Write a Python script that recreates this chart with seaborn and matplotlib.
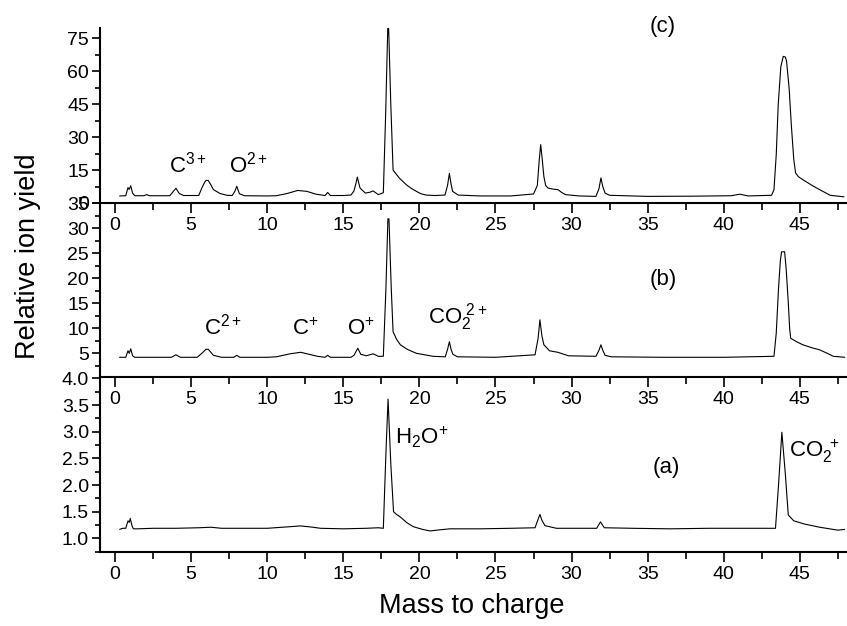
#!/usr/bin/env python3
"""
Stacked mass spectra (three panels, shared m/z range).
Writes out.png
"""

import matplotlib
matplotlib.use("Agg")
import matplotlib.pyplot as plt
from matplotlib.ticker import MultipleLocator
import seaborn as sns

# ----------------------------
# Data
# ----------------------------

# panel (c), top
mz_c = [0.3, 0.7, 0.85, 0.93, 1.03, 1.15, 1.3, 1.9, 2.08, 2.25, 3.6, 3.83, 4.0, 4.22, 4.5,
        5.5, 5.7, 5.9, 5.98, 6.13, 6.3, 6.46, 6.9, 7.35, 7.7, 7.87, 8.0, 8.17, 8.5, 10.0,
        10.6, 11.3, 12.0, 12.6, 13.2, 13.8, 13.97, 14.15, 15.0, 15.5, 15.7, 15.85, 15.92,
        16.0, 16.1, 16.45, 16.75, 16.96, 17.3, 17.63, 17.78, 17.92, 17.98, 18.12, 18.27,
        18.4, 18.7, 19.16, 19.5, 19.8, 20.1, 20.45, 21.0, 21.68, 21.85, 21.97, 22.07, 22.18,
        22.55, 24.0, 26.0, 27.5, 27.75, 27.88, 27.97, 28.07, 28.18, 28.3, 28.45, 28.8, 29.1,
        29.35, 29.6, 30.5, 31.6, 31.8, 31.93, 32.05, 32.2, 32.5, 35.0, 38.0, 40.5, 41.06,
        41.6, 43.14, 43.3, 43.45, 43.58, 43.75, 43.91, 44.05, 44.13, 44.3, 44.44, 44.6,
        44.72, 44.9, 45.2, 45.9, 46.4, 47.0, 47.9]
yield_c = [3.2, 3.3, 7.0, 6.2, 7.9, 4.5, 3.3, 3.3, 3.8, 3.3, 3.3, 5.3, 6.7, 4.3, 3.4,
           3.4, 6.8, 9.6, 10.3, 10.2, 8.2, 6.1, 4.3, 3.5, 3.4, 5.3, 7.6, 4.2, 3.3, 3.2,
           3.3, 4.3, 5.7, 5.3, 4.0, 3.4, 4.8, 3.4, 3.4, 3.6, 5.5, 9.5, 11.8,
           9.5, 6.8, 4.5, 4.9, 5.5, 3.8, 4.7, 40.0, 79.5, 79.5, 45.0, 15.0,
           13.8, 11.2, 8.2, 6.5, 5.3, 4.2, 3.6, 3.4, 3.6, 8.0, 13.5, 9.0, 5.3,
           3.6, 3.2, 3.2, 4.1, 8.0, 20.0, 26.6, 20.0, 12.0, 8.0, 6.8, 6.3, 6.1,
           4.8, 3.8, 3.2, 3.0, 6.5, 11.4, 7.5, 4.5, 3.5, 3.0, 3.1, 3.3, 4.0,
           3.2, 3.5, 6.0, 22.0, 44.8, 62.0, 66.8, 66.5, 64.5, 52.0, 35.7, 20.0,
           13.7, 12.0, 10.6, 7.6, 5.7, 3.5, 2.8]

# panel (b), middle
mz_b = [0.3, 0.7, 0.85, 0.93, 1.03, 1.15, 1.3, 3.7, 4.0, 4.3, 5.4, 5.7, 5.98, 6.13, 6.46,
        7.0, 7.8, 8.0, 8.2, 10.0, 10.6, 11.5, 12.2, 13.3, 13.8, 13.97, 14.15, 15.5, 15.7,
        15.95, 16.15, 16.5, 16.96, 17.3, 17.63, 17.8, 17.93, 18.0, 18.15, 18.27, 18.5,
        18.75, 19.2, 19.8, 20.9, 21.7, 21.85, 21.97, 22.08, 22.2, 22.5, 25.0, 27.6, 27.8,
        27.92, 28.05, 28.18, 28.55, 29.1, 29.8, 31.6, 31.8, 31.93, 32.05, 32.2, 32.6, 36.0,
        40.0, 43.3, 43.45, 43.6, 43.72, 43.8, 44.0, 44.1, 44.25, 44.33, 44.4, 44.8, 45.2,
        45.8, 46.3, 46.8, 47.2, 47.95]
yield_b = [4.2, 4.2, 5.5, 5.0, 5.9, 4.5, 4.2, 4.2, 4.7, 4.2, 4.2, 5.0, 5.8, 5.8, 4.6,
           4.2, 4.2, 4.6, 4.2, 4.2, 4.3, 4.9, 5.2, 4.4, 4.2, 4.6, 4.2, 4.2, 4.6,
           6.0, 4.8, 4.5, 4.9, 4.4, 4.4, 18.0, 31.9, 31.9, 18.0, 9.3, 7.8,
           6.7, 5.8, 5.0, 4.4, 4.3, 5.8, 7.3, 5.8, 4.8, 4.3, 4.2, 4.7, 8.0,
           11.7, 8.5, 6.7, 5.5, 5.2, 4.5, 4.4, 5.6, 6.7, 5.6, 4.6, 4.3, 4.2,
           4.2, 4.4, 9.0, 18.0, 23.5, 25.3, 25.3, 22.0, 14.7, 10.0, 8.0, 7.3, 6.7,
           6.1, 5.7, 5.0, 4.4, 4.2]

# panel (a), bottom
mz_a = [0.3, 0.5, 0.7, 0.85, 0.93, 1.0, 1.1, 1.2, 1.5, 2.5, 4.0, 5.5, 6.3, 7.0, 8.5,
        10.0, 10.5, 11.5, 12.2, 13.0, 13.5, 15.0, 16.5, 17.3, 17.63, 17.8, 17.94, 18.12,
        18.3, 18.5, 18.75, 19.2, 19.6, 20.2, 20.7, 21.3, 22.0, 24.0, 26.0, 27.6, 27.8,
        27.92, 28.05, 28.25, 29.0, 30.5, 31.65, 31.9, 32.15, 34.0, 36.5, 39.0, 41.5, 43.4,
        43.6, 43.82, 44.05, 44.24, 44.6, 45.3, 46.3, 47.5, 47.95]
yield_a = [1.17, 1.19, 1.19, 1.33, 1.30, 1.375, 1.25, 1.18, 1.18, 1.19, 1.19, 1.20, 1.21, 1.19, 1.19,
           1.19, 1.20, 1.22, 1.235, 1.21, 1.19, 1.18, 1.19, 1.20, 1.19, 2.6, 3.61, 2.4,
           1.50, 1.45, 1.40, 1.29, 1.22, 1.17, 1.14, 1.16, 1.18, 1.18, 1.19, 1.20, 1.36,
           1.45, 1.34, 1.24, 1.19, 1.19, 1.19, 1.31, 1.20, 1.19, 1.18, 1.19, 1.19, 1.19,
           2.0, 2.99, 2.2, 1.44, 1.33, 1.27, 1.21, 1.155, 1.17]

# ----------------------------
# Style
# ----------------------------
sns.set_theme(style="ticks")
plt.rcParams["font.family"] = ["Liberation Sans", "DejaVu Sans"]
plt.rcParams["mathtext.fontset"] = "custom"
plt.rcParams["mathtext.rm"] = "Liberation Sans"
plt.rcParams["mathtext.it"] = "Liberation Sans"
plt.rcParams["axes.edgecolor"] = "black"
plt.rcParams["axes.linewidth"] = 1.5
plt.rcParams["xtick.color"] = "black"
plt.rcParams["ytick.color"] = "black"
plt.rcParams["text.color"] = "black"

W, H = 847, 626
fig = plt.figure(figsize=(W / 100, H / 100), dpi=100)

left = 100 / W
width = 1 - left
# (top px, bottom px) of each panel
rows = [(28.3, 203.3), (203.3, 377.3), (377.3, 552.3)]


def make_axes(top_px, bot_px):
    ax = fig.add_axes([left, 1 - bot_px / H, width, (bot_px - top_px) / H])
    ax.patch.set_alpha(0)
    sns.despine(ax=ax)
    ax.set_xlim(-0.99, 48.1)
    ax.xaxis.set_major_locator(MultipleLocator(5))
    ax.xaxis.set_minor_locator(MultipleLocator(2.5))
    ax.tick_params(axis="x", which="major", length=7, width=1.2, labelsize=14, pad=3)
    ax.tick_params(axis="x", which="minor", length=5, width=1.2)
    ax.tick_params(axis="y", which="major", length=6, width=1.2, labelsize=14, pad=2)
    ax.tick_params(axis="y", which="minor", length=3.5, width=1.2)
    ax.set_xlabel("")
    ax.set_ylabel("")
    return ax


def draw(ax, x, y):
    sns.lineplot(x=x, y=y, ax=ax, color="black", linewidth=0.8, legend=False)


# ----------------------------
# Panels
# ----------------------------
ax_c = make_axes(*rows[0])
draw(ax_c, mz_c, yield_c)
ax_c.set_ylim(-0.15, 79.6)
ax_c.yaxis.set_major_locator(MultipleLocator(15))
ax_c.yaxis.set_minor_locator(MultipleLocator(7.5))
ax_c.text(36.0, 80.3, "(c)", ha="center", va="center", fontsize=16)
ax_c.text(3.57, 13.7, r"C$^{3+}$", ha="left", va="baseline", fontsize=16)
ax_c.text(7.51, 13.7, r"O$^{2+}$", ha="left", va="baseline", fontsize=16)

ax_b = make_axes(*rows[1])
draw(ax_b, mz_b, yield_b)
ax_b.set_ylim(0.2, 35)
ax_b.yaxis.set_major_locator(MultipleLocator(5))
ax_b.yaxis.set_minor_locator(MultipleLocator(2.5))
ax_b.text(36.0, 19.7, "(b)", ha="center", va="center", fontsize=16)
ax_b.text(5.85, 8.7, r"C$^{2+}$", ha="left", va="baseline", fontsize=16)
ax_b.text(11.6, 8.7, r"C$^{+}$", ha="left", va="baseline", fontsize=16)
ax_b.text(15.22, 8.7, r"O$^{+}$", ha="left", va="baseline", fontsize=16)
ax_b.text(20.57, 11.0, r"CO$_{2}^{\ 2+}$", ha="left", va="baseline", fontsize=16)

ax_a = make_axes(*rows[2])
draw(ax_a, mz_a, yield_a)
ax_a.set_ylim(0.74, 4.02)
ax_a.yaxis.set_major_locator(MultipleLocator(0.5))
ax_a.yaxis.set_minor_locator(MultipleLocator(0.25))
ax_a.yaxis.set_major_formatter(plt.FormatStrFormatter("%.1f"))
ax_a.text(36.2, 2.33, "(a)", ha="center", va="center", fontsize=16)
ax_a.text(18.4, 2.77, r"H$_{2}$O$^{+}$", ha="left", va="baseline", fontsize=16)
ax_a.text(44.3, 2.52, r"CO$_{2}^{\ +}$", ha="left", va="baseline", fontsize=16)

# ----------------------------
# Axis titles
# ----------------------------
fig.text(472 / W, 1 - 613 / H, "Mass to charge", ha="center", va="baseline", fontsize=19.5)
fig.text(28 / W, 1 - 256 / H, "Relative ion yield", ha="center", va="center",
         rotation=90, fontsize=19.5)

fig.savefig("out.png", dpi=100)
plt.close(fig)
